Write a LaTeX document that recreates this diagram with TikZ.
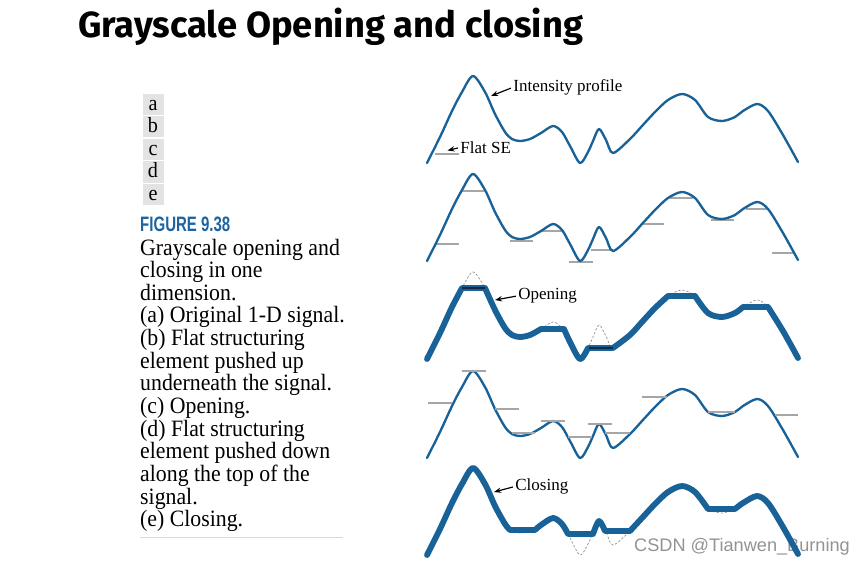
\documentclass[tikz,border=0pt]{standalone}
\usepackage{fontspec}
\setmainfont{Liberation Serif}
\newfontfamily\titulofont{Fira Sans}
\newfontfamily\figurafont[FakeStretch=0.72]{Liberation Sans}
\newfontfamily\legendafont[FakeStretch=0.93]{Liberation Serif}
\newfontfamily\marcafont{Liberation Sans}
\usetikzlibrary{arrows.meta}
\definecolor{azulsinal}{RGB}{24,98,152}
\definecolor{azulescuro}{RGB}{18,40,68}
\definecolor{azulfigura}{RGB}{30,100,160}
\newcommand{\perfil}{plot[smooth,tension=0.5] coordinates {(427,163) (440,137) (452,111) (462,92) (473,76) (485,92) (495,114) (505,132) (512,139) (520,141) (530,139) (541,133) (553,126) (562,132) (570,146) (580,163) (588,152) (593,141) (599,129) (606,140) (613,153) (630,139) (642,126) (655,112) (668,100) (682,94) (695,100) (708,117) (722,121) (735,117) (743,111) (757,104) (768,111) (783,135) (798,162)}}
\tikzset{
  sinal/.style={draw=azulsinal, line width=2pt, line join=round, line cap=round},
  grosso/.style={draw=azulsinal, line width=5pt, line join=round, line cap=round},
  original/.style={draw=gray!85, line width=0.6pt, dash pattern=on 2pt off 1.5pt},
  elemento/.style={draw=gray!70, line width=1.6pt},
  rotulo/.style={font=\fontsize{14.5}{16}\selectfont, inner sep=1pt, anchor=west},
  seta/.style={-{Stealth[length=6pt,width=4.5pt]}, line width=1pt, black, shorten <=1pt},
  letra/.style={fill=gray!22, minimum width=0.63cm, minimum height=0.63cm, inner sep=0pt, text height=11pt, text depth=1pt, font=\legendafont\fontsize{18.5}{18.5}\selectfont},
  legenda/.style={font=\legendafont\fontsize{20}{20}\selectfont, anchor=base west, inner sep=0pt},
}

\begin{document}
\begin{tikzpicture}[x=0.03cm, y=-0.03cm]
  \useasboundingbox (0,0) rectangle (868,566);

  % Titulo e legenda
  \node[font=\titulofont\bfseries\fontsize{31}{36}\selectfont, anchor=base west, inner sep=0pt] (titulo) at (78,37.5) {Grayscale Opening and closing};
  \foreach \l [count=\i] in {a,b,c,d,e}
    \node[letra] (letra\l) at (153,{104.2+22.6*(\i-1)}) {\l};
  \node[font=\figurafont\bfseries\fontsize{17.8}{18}\selectfont, text=azulfigura, anchor=base west, inner sep=0pt] (figura) at (140,231) {FIGURE 9.38};
  \foreach \linha [count=\i] in {{Grayscale opening and}, {closing in one}, {dimension.}, {(a) Original 1-D signal.}, {(b) Flat structuring}, {element pushed up}, {underneath the signal.}, {(c) Opening.}, {(d) Flat structuring}, {element pushed down}, {along the top of the}, {signal.}, {(e) Closing.}}
    \node[legenda] (linha\i) at (140,{255+22.64*(\i-1)}) {\linha};
  \draw[line width=1.2pt, gray!30] (140,537.7) -- (343,537.7);
  \node[font=\marcafont\fontsize{15.5}{16}\selectfont, text=gray!85, anchor=base west, inner sep=0pt] (marca) at (634,551.7) {CSDN @Tianwen\_Burning};

  % (a) sinal original
  \draw[sinal] \perfil;
  \draw[elemento] (435,154.3) -- (459.3,154.3);
  \node[rotulo] (perfil) at (512,87.7) {Intensity profile};
  \coordinate (topo) at (491,96);
  \draw[seta] (perfil.west) -- (topo);
  \node[rotulo] (plano) at (459,147.7) {Flat SE};
  \coordinate (se) at (447.5,150.5);
  \draw[seta] (plano.west) -- (se);

  % (b) elemento empurrado por baixo
  \begin{scope}[shift={(0,98)}]
    \foreach \xa/\xb/\yy in {435/459.3/145.7, 461.7/484/92.7, 510/533.3/142.7, 541.7/564/132.7, 569.3/592.7/164, 590.7/613.3/151.7, 641.7/664/126.3, 670/693.3/99.7, 710.7/734/121.7, 746/766.7/111.3, 771.7/794/155}
      \draw[elemento] (\xa,\yy) -- (\xb,\yy);
    \draw[sinal] \perfil;
  \end{scope}

  % (c) abertura
  \begin{scope}[shift={(0,196)}]
    \draw[original] \perfil;
    \draw[grosso] plot[smooth,tension=0.5] coordinates {(427,163) (440,137) (452,111) (462,92)}
      -- (485,92) plot[smooth,tension=0.5] coordinates {(485,92) (495,114) (505,132) (512,139) (520,141) (530,139) (541,133)}
      -- (564,133) plot[smooth,tension=0.5] coordinates {(564,133) (570,146) (580,163) (588,152)}
      -- (613,152) plot[smooth,tension=0.5] coordinates {(613,152) (630,139) (642,126) (655,112) (668,100)}
      -- (695,100) plot[smooth,tension=0.5] coordinates {(695,100) (708,117) (722,121) (735,117) (743,111)}
      -- (768,111) plot[smooth,tension=0.5] coordinates {(768,111) (783,135) (798,162)};
    \draw[azulescuro, line width=2pt] (462,92) -- (485,92);
    \draw[azulescuro, line width=2pt] (589,152) -- (613,152);
    \node[rotulo] (abertura) at (517,100) {Opening};
    \coordinate (ombro) at (495,104);
    \draw[seta] (abertura.west) -- (ombro);
  \end{scope}

  % (d) elemento empurrado por cima
  \begin{scope}[shift={(0,295)}]
    \draw[sinal] \perfil;
    \foreach \xa/\xb/\yy in {428.3/452.3/107.7, 461.7/485.7/75.7, 495/519/114, 511.7/535/137.7, 540.7/565/125.7, 568.3/591.7/142.3, 587.7/611.7/129, 605/630/137.7, 642.3/666.7/101.7, 708.3/735/117.3, 775/798.3/120}
      \draw[elemento] (\xa,\yy) -- (\xb,\yy);
  \end{scope}

  % (e) fechamento
  \begin{scope}[shift={(0,392)}]
    \draw[original] \perfil;
    \draw[grosso] plot[smooth,tension=0.5] coordinates {(427,163) (440,137) (452,111) (462,92) (473,76) (485,92) (495,114) (505,132) (510,138)}
      -- (535,138) plot[smooth,tension=0.5] coordinates {(535,138) (541,133) (553,126) (562,132) (568,142)}
      -- (593,142) plot[smooth,tension=0.5] coordinates {(593,142) (599,129) (605,139)}
      -- (630,139) plot[smooth,tension=0.5] coordinates {(630,139) (642,126) (655,112) (668,100) (682,94) (695,100) (708,117)}
      -- (735,117) plot[smooth,tension=0.5] coordinates {(735,117) (743,111) (757,104) (768,111) (783,135) (798,162)};
    \node[rotulo] (fechamento) at (514,94.7) {Closing};
    \coordinate (lado) at (494,100);
    \draw[seta] (fechamento.west) -- (lado);
  \end{scope}
\end{tikzpicture}
\end{document}
